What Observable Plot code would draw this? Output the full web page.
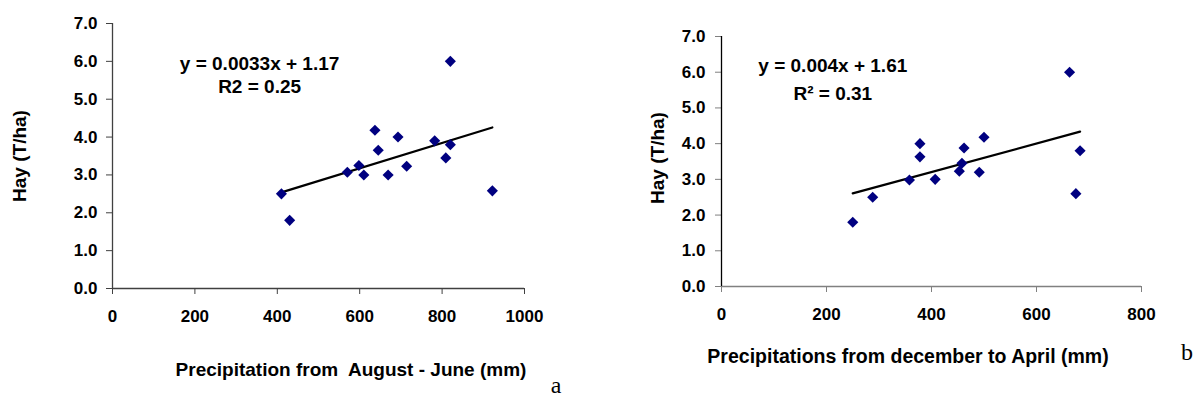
<!DOCTYPE html>
<html>
<head>
<meta charset="utf-8">
<script src="https://cdn.jsdelivr.net/npm/d3@7"></script>
<script src="https://cdn.jsdelivr.net/npm/@observablehq/plot@0.6"></script>
<style>
  html, body { margin: 0; padding: 0; background: #fff; }
  #wrap { position: relative; width: 1199px; height: 410px; overflow: hidden; background: #fff;
          font-family: "Liberation Sans", Arial, sans-serif; color: #000; }
  .panel { position: absolute; top: 0; }
  .lbl { position: absolute; white-space: nowrap; font-weight: bold; transform: translate(-50%, -50%); }
  .rot { transform: translate(-50%, -50%) rotate(-90deg); }
  .tag { position: absolute; font-family: "Liberation Serif", "Times New Roman", serif; font-size: 24px; transform: translate(-50%, -50%); }
</style>
</head>
<body>
<div id="wrap">
  <div id="left" class="panel" style="left:0px;width:560px;"></div>
  <div id="right" class="panel" style="left:600px;width:599px;"></div>
  <div class="lbl rot" style="left:20px;top:156px;font-size:19px;">Hay (T/ha)</div>
  <div class="lbl rot" style="left:658px;top:158px;font-size:19px;">Hay (T/ha)</div>
  <div class="lbl" style="left:351px;top:370px;font-size:19px;">Precipitation from&nbsp; August - June (mm)</div>
  <div class="lbl" style="left:908px;top:356px;font-size:19.5px;">Precipitations from december to April (mm)</div>
  <div class="tag" style="left:556px;top:385px;">a</div>
  <div class="tag" style="left:1187px;top:352px;">b</div>
</div>
<script>
// ---- Data: panel a (Precipitation August - June) ----
const precipAugJun = [410, 430, 570, 598, 610, 637, 645, 669, 693, 714, 782, 809, 820, 820, 922];
const hayA         = [2.5, 1.8, 3.07, 3.25, 3.0, 4.18, 3.65, 3.0, 4.0, 3.23, 3.9, 3.45, 3.8, 6.0, 2.58];

// ---- Data: panel b (Precipitation December - April) ----
const precipDecApr = [250, 288, 358, 378, 378, 407, 453, 458, 462, 491, 500, 663, 675, 683];
const hayB         = [1.8, 2.5, 2.98, 4.0, 3.63, 3.0, 3.23, 3.45, 3.88, 3.2, 4.18, 6.0, 2.6, 3.8];

// ---- Tick labels ----
const yTicks = [0, 1, 2, 3, 4, 5, 6, 7];
const xTicksA = [0, 200, 400, 600, 800, 1000];
const xTicksB = [0, 200, 400, 600, 800];

// ---- Equation annotations ----
const eqTextA = ["y = 0.0033x + 1.17", "R2 = 0.25"];
const eqXA = [357, 357];
const eqYA = [5.93, 5.32];
const eqTextB = ["y = 0.004x + 1.61", "R\u00B2 = 0.31"];
const eqXB = [212, 212];
const eqYB = [6.19, 5.40];

function panel(opts) {
  const pts = opts.xs.map((x, i) => ({x, y: opts.ys[i]}));
  const eq = opts.eqText.map((t, i) => ({x: opts.eqX[i], y: opts.eqY[i], t}));
  return Plot.plot({
    width: opts.width, height: 330,
    marginLeft: opts.ml, marginRight: opts.mr, marginTop: opts.mt, marginBottom: opts.mb,
    style: {fontFamily: "'Liberation Sans', Arial, sans-serif", fontSize: "17px", fontWeight: "bold",
            color: "#000", background: "transparent", overflow: "visible"},
    x: {domain: opts.xDomain, label: null},
    y: {domain: [0, 7], label: null},
    marks: [
      Plot.axisX({ticks: opts.xTicks, tickSize: 6, tickPadding: 15, stroke: opts.xAxisColor, label: null,
                  fontSize: 17, fontWeight: "bold", fill: "#000", tickFormat: d => String(d)}),
      Plot.axisY({ticks: yTicks, tickSize: 6, tickPadding: opts.yPad, stroke: opts.yTickColor, label: null,
                  fontSize: 17, fontWeight: "bold", fill: "#000", tickFormat: d => d.toFixed(1)}),
      Plot.ruleY([0], {stroke: opts.xAxisColor, strokeWidth: 1.3}),
      Plot.ruleX([0], {stroke: opts.yAxisColor, strokeWidth: 1.3}),
      Plot.linearRegressionY(pts, {x: "x", y: "y", stroke: "#000", strokeWidth: 2.2, ci: 0}),
      Plot.dot(pts, {x: "x", y: "y", symbol: "diamond2", r: 5, fill: "#000080", stroke: "none"}),
      Plot.text(eq, {x: "x", y: "y", text: "t", fontSize: 19, fontWeight: "bold", fill: "#000", textAnchor: "middle"})
    ]
  });
}

document.getElementById("left").append(panel({
  width: 560, ml: 112, mr: 36, mt: 23, mb: 42,
  xs: precipAugJun, ys: hayA, xDomain: [0, 1000], xTicks: xTicksA,
  eqText: eqTextA, eqX: eqXA, eqY: eqYA,
  xAxisColor: "#404040", yAxisColor: "#404040", yTickColor: "#404040", yPad: 9
}));
document.getElementById("right").append(panel({
  width: 599, ml: 121, mr: 58, mt: 36, mb: 44,
  xs: precipDecApr, ys: hayB, xDomain: [0, 800], xTicks: xTicksB,
  eqText: eqTextB, eqX: eqXB, eqY: eqYB,
  xAxisColor: "#808080", yAxisColor: "#000", yTickColor: "#808080", yPad: 10
}));
</script>
</body>
</html>
